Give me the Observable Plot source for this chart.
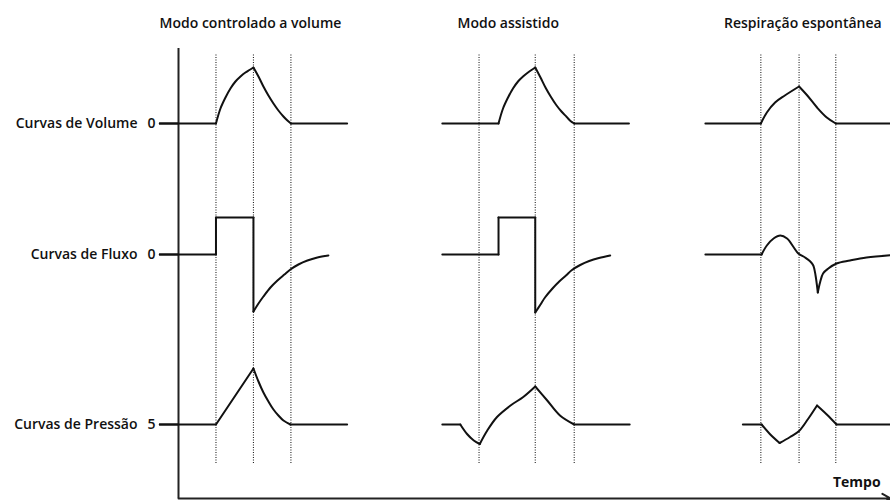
<!DOCTYPE html>
<html>
<head>
<meta charset="utf-8">
<script src="https://cdn.jsdelivr.net/npm/d3@7"></script>
<script src="https://cdn.jsdelivr.net/npm/@observablehq/plot@0.6"></script>
<style>
  body { margin: 0; background: #fff; }
  #chart svg { display: block; }
</style>
</head>
<body>
<div id="chart"></div>
<script>
// Ventilation waveforms: volume, flow and pressure for three breathing modes.
// Time is in arbitrary units along a shared axis; each curve is listed as
// segments of [time, value] points, value measured from the row's resting level.

const modes = ["Modo controlado a volume", "Modo assistido", "Respiração espontânea"];
const rowLabels = ["Curvas de Volume", "Curvas de Fluxo", "Curvas de Pressão"];
const rowTicks = ["0", "0", "5"];

// Phase markers (dotted lines) for each mode
const phaseMarks = [
  [5, 10, 15],
  [40.1, 47.6, 52.8],
  [77.7, 82.8, 87.7]
];

// Volume
const volumeControlled = [
  [[-2.5, 0], [5, 0]],
  [[5, 0], [5.6, 3], [6.27, 5.2], [6.93, 7], [7.6, 8.4], [8.27, 9.4], [8.93, 10.2], [9.47, 10.7], [10, 11.2]],
  [[10, 11.2], [10.67, 9.4], [11.33, 7.4], [12, 5.6], [12.67, 4], [13.33, 2.6], [14, 1.4], [14.53, 0.6], [15, 0]],
  [[15, 0], [22.5, 0]]
];
const volumeAssisted = [
  [[35.2, 0], [42.7, 0]],
  [[42.7, 0], [43.3, 3], [43.97, 5.2], [44.63, 7], [45.3, 8.4], [45.97, 9.4], [46.63, 10.2], [47.1, 10.7], [47.6, 11.2]],
  [[47.6, 11.2], [48.3, 9.2], [49, 7.1], [49.7, 5.3], [50.4, 3.7], [51.1, 2.4], [51.8, 1.3], [52.3, 0.5], [52.8, 0]],
  [[52.8, 0], [60.1, 0]]
];
const volumeSpontaneous = [
  [[70.3, 0], [77.7, 0]],
  [[77.7, 0], [78.5, 2.2], [79.6, 4.2], [80.9, 5.6], [82.8, 7.4]],
  [[82.8, 7.4], [83.9, 5.6], [85.2, 3.2], [86.5, 1.2], [87.7, 0]],
  [[87.7, 0], [96, 0]]
];

// Flow
const flowControlled = [
  [[-2.5, 0], [5, 0]],
  [[5, 0], [5, 7.4]],
  [[5, 7.4], [10, 7.4]],
  [[10, 7.4], [10, -11.4]],
  [[10, -11.4], [10.67, -9.8], [11.33, -8.4], [12.27, -6.6], [13.2, -5.2], [14.13, -4], [14.93, -3],
   [16, -2], [17.2, -1.2], [18.53, -0.6], [20, -0.2]]
];
const flowAssisted = [
  [[35.2, 0], [42.7, 0]],
  [[42.7, 0], [42.7, 7.4]],
  [[42.7, 7.4], [47.6, 7.4]],
  [[47.6, 7.4], [47.6, -11.6]],
  [[47.6, -11.6], [48.3, -10], [48.9, -8.6], [49.9, -6.8], [50.8, -5.4], [51.7, -4.2], [52.5, -3.1],
   [53.6, -2.1], [54.8, -1.3], [56.1, -0.7], [57.6, -0.2]]
];
const flowSpontaneous = [
  [[70.3, 0], [77.8, 0]],
  [[77.8, 0], [78.5, 1.8], [79.4, 3.2], [80.3, 3.8], [81.2, 3.2], [82.1, 1.4], [82.7, 0.2],
   [83.6, -0.6], [84.3, -1.4], [84.7, -2.2], [85.0, -4.2], [85.3, -7.6]],
  [[85.3, -7.6], [85.6, -5.6], [86.0, -3.8], [86.7, -2.8], [87.8, -1.8], [89.6, -1.2], [91.8, -0.6], [96, 0]]
];

// Pressure
const pressureControlled = [
  [[-2.5, 0], [5, 0]],
  [[5, 0], [10, 11.2]],
  [[10, 11.2], [10.67, 8.6], [11.33, 6.4], [12, 4.6], [12.67, 3], [13.33, 1.8], [14, 0.8], [14.93, 0]],
  [[14.93, 0], [22.5, 0]]
];
const pressureAssisted = [
  [[35.2, 0], [37.6, 0]],
  [[37.6, 0], [38.5, -1.9], [39.4, -3.2], [40.2, -3.9]],
  [[40.2, -3.9], [41.2, -1.2], [42.5, 1.5], [44.3, 3.8], [46, 5.5], [47.6, 7.6]],
  [[47.6, 7.6], [49.2, 4.8], [50.9, 1.8], [52.8, 0]],
  [[52.8, 0], [60.2, 0]]
];
const pressureSpontaneous = [
  [[75.3, 0], [77.8, 0]],
  [[77.8, 0], [78.9, -1.9], [80.2, -3.7]],
  [[80.2, -3.7], [81.6, -2.5], [82.8, -1.3], [84, 1.1], [85.2, 3.8]],
  [[85.2, 3.8], [86.5, 2], [87.8, 0]],
  [[87.8, 0], [96, 0]]
];

// Layout: vertical level of each row and title anchors
const rowBase = [75, 48.8, 14.8];
const titleAt = [9.6, 44, 83.3];

const series = [
  [volumeControlled, volumeAssisted, volumeSpontaneous],
  [flowControlled, flowAssisted, flowSpontaneous],
  [pressureControlled, pressureAssisted, pressureSpontaneous]
];

const points = [];
series.forEach((row, i) => row.forEach((curve, j) => curve.forEach((seg, k) =>
  seg.forEach(([t, v]) => points.push({t, y: rowBase[i] + v, key: `${i}-${j}-${k}`}))
)));

const tickByBase = new Map(rowBase.map((b, i) => [b, rowTicks[i]]));

const chart = Plot.plot({
  width: 890,
  height: 500,
  marginLeft: 178,
  marginRight: 0,
  marginTop: 48,
  marginBottom: 2,
  style: {fontFamily: "'Open Sans', sans-serif", fontSize: "14px", color: "#111", background: "#fff"},
  x: {domain: [0, 95], axis: null},
  y: {domain: [0, 90], label: null},
  marks: [
    Plot.ruleX(phaseMarks.flat(), {y1: 7, y2: 89, stroke: "#222", strokeWidth: 1.1, strokeDasharray: "1,1.5"}),
    Plot.ruleX([0], {y1: 0, y2: 90, stroke: "#222", strokeWidth: 2}),
    Plot.arrow([0], {x1: 0, x2: 95, y1: 0, y2: 0, stroke: "#222", strokeWidth: 2, headLength: 7}),
    Plot.axisY(rowBase, {tickFormat: d => tickByBase.get(d), tickSize: 19, tickPadding: 4, fontSize: 14, fontWeight: 600, strokeWidth: 2, label: null}),
    Plot.line(points, {x: "t", y: "y", z: "key", curve: "catmull-rom", stroke: "#111", strokeWidth: 2, strokeLinecap: "round", strokeLinejoin: "round"}),
    Plot.text(rowLabels, {x: 0, y: (d, i) => rowBase[i], dx: -41, textAnchor: "end", fontSize: 14, fontWeight: 600}),
    Plot.text(modes, {x: (d, i) => titleAt[i], y: 95, fontSize: 14, fontWeight: 600}),
    Plot.text(["Tempo"], {x: 90.5, y: 3.2, fontSize: 14, fontWeight: 700})
  ]
});

document.getElementById("chart").append(chart);
</script>
</body>
</html>
